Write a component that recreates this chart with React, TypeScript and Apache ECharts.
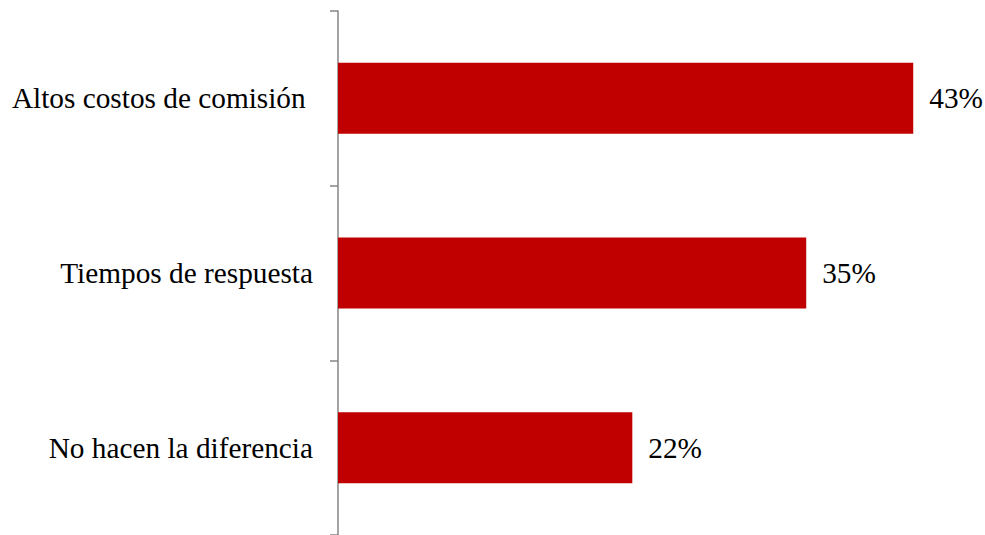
import React, { useEffect, useRef } from "react";
import * as echarts from "echarts";

const categories = ["No hacen la diferencia", "Tiempos de respuesta", "Altos costos de comisión "];
const values = [22, 35, 43];

export default function App() {
  const ref = useRef<HTMLDivElement>(null);
  useEffect(() => {
    if (!ref.current) return;
    const chart = echarts.init(ref.current, null, { renderer: "svg" });
    chart.setOption({
      animation: false,
      backgroundColor: "#ffffff",
      grid: { left: 338, right: 45, top: 11, bottom: -4, containLabel: false },
      xAxis: {
        type: "value",
        min: 0,
        max: 45,
        show: false,
      },
      yAxis: {
        type: "category",
        data: categories,
        axisLine: { show: true, lineStyle: { color: "#868686", width: 1.5 } },
        axisTick: { show: true, length: 8, lineStyle: { color: "#868686", width: 1.5 } },
        axisLabel: {
          margin: 25,
          color: "#000000",
          fontFamily: "'Liberation Serif', 'Times New Roman', serif",
          fontSize: 29.3,
        },
        splitLine: { show: false },
      },
      series: [
        {
          type: "bar",
          data: values,
          barWidth: 71,
          itemStyle: { color: "#C00000" },
          label: {
            show: true,
            position: "right",
            distance: 16,
            formatter: "{c}%",
            color: "#000000",
            fontFamily: "'Liberation Serif', 'Times New Roman', serif",
            fontSize: 29.3,
          },
        },
      ],
    });
    return () => chart.dispose();
  }, []);
  return (
    <div
      ref={ref}
      style={{ position: "fixed", left: 0, top: 0, width: 985, height: 535, background: "#fff" }}
    />
  );
}
